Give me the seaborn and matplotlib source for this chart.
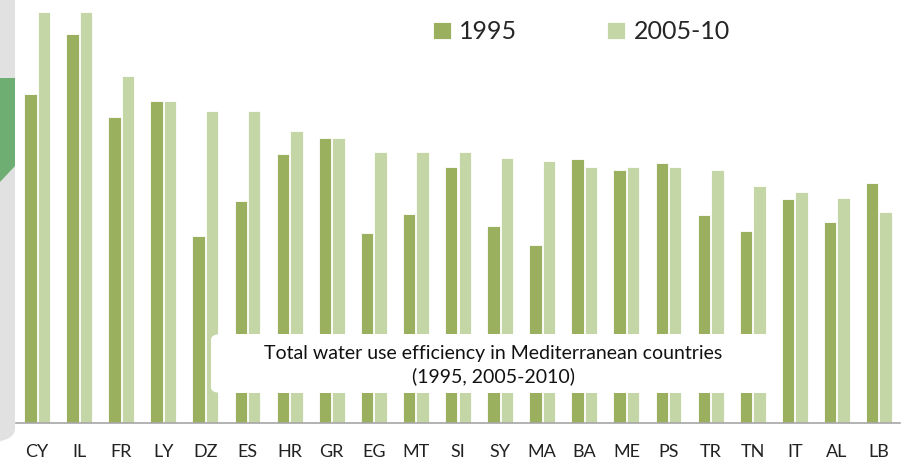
import numpy as np
import pandas as pd
import matplotlib
matplotlib.use("Agg")
import matplotlib.pyplot as plt
from matplotlib.patches import FancyBboxPatch, Polygon
import seaborn as sns

# data (efficiency, arbitrary % scale)
countries = ["CY", "IL", "FR", "LY", "DZ", "ES", "HR", "GR", "EG", "MT", "SI",
             "SY", "MA", "BA", "ME", "PS", "TR", "TN", "IT", "AL", "LB"]
val_1995 = [80.0, 94.6, 74.6, 78.3, 45.6, 54.1, 65.6, 69.3, 46.3, 51.0, 62.4,
            48.0, 43.4, 64.4, 61.5, 63.4, 50.7, 46.8, 54.6, 49.0, 58.5]
val_2005 = [100.0, 100.0, 84.4, 78.3, 75.9, 75.9, 71.0, 69.5, 66.1, 66.1, 66.1,
            64.6, 63.7, 62.4, 62.4, 62.4, 61.7, 57.6, 56.3, 54.9, 51.5]
periods = ["1995", "2005-10"]
colors = ["#9BB05E", "#C4D5A6"]

df = pd.DataFrame({
    "country": countries * 2,
    "period": [periods[0]] * len(countries) + [periods[1]] * len(countries),
    "value": val_1995 + val_2005,
})

sns.set_style("white")
plt.rcParams["font.family"] = ["Lato", "DejaVu Sans"]

W, H = 906, 462
fig = plt.figure(figsize=(W / 100, H / 100), dpi=100)

# decorative slide background on the left edge
fig.add_artist(FancyBboxPatch((-20 / W, 20 / H), 35 / W, 460 / H,
                              boxstyle="round,pad=0,rounding_size=0.03",
                              transform=fig.transFigure, facecolor="#E1E1E1",
                              edgecolor="none", zorder=0))
fig.add_artist(Polygon([(0, 1 - 78 / H), (15 / W, 1 - 78 / H), (15 / W, 1 - 166 / H),
                        (0, 1 - 182 / H)], closed=True, transform=fig.transFigure,
                       facecolor="#6FAE72", edgecolor="none", zorder=0))

ax = fig.add_axes([16 / W, 39 / H, 884 / W, 423 / H])
ax.patch.set_alpha(0)
sns.barplot(data=df, x="country", y="value", hue="period", palette=colors,
            saturation=1, width=0.64, gap=0.08, edgecolor="white",
            linewidth=0.6, ax=ax)

ax.set_ylim(0, 103)
ax.set_xlim(-0.5, len(countries) - 0.5)
ax.set_xlabel("")
ax.set_ylabel("")
ax.set_yticks([])
for s in ["left", "top", "right"]:
    ax.spines[s].set_visible(False)
ax.spines["bottom"].set_color("#A6A6A6")
ax.spines["bottom"].set_linewidth(1.2)
ax.set_xticks(np.arange(-0.5, len(countries), 1), minor=True)
ax.tick_params(axis="x", which="minor", length=7, color="#A6A6A6", width=1.2)
ax.tick_params(axis="x", which="major", length=0, pad=15, labelsize=13,
               labelcolor="#222222")

sns.move_legend(ax, "upper left", bbox_to_anchor=(433 / W, 1 - 20 / H),
                bbox_transform=fig.transFigure, ncol=2, frameon=False,
                fontsize=18, title=None, handlelength=0.7, handleheight=0.7,
                handletextpad=0.35, columnspacing=3.6, borderpad=0,
                borderaxespad=0)

# caption box over the bars
fig.add_artist(FancyBboxPatch((211 / W, 1 - 393 / H), 564 / W, 59 / H,
                              boxstyle="round,pad=0,rounding_size=0.012",
                              transform=fig.transFigure, facecolor="white",
                              edgecolor="none", zorder=5))
fig.text(493 / W, 1 - 365 / H,
         "Total water use efficiency in Mediterranean countries\n(1995, 2005-2010)",
         ha="center", va="center", fontsize=14, color="#111111",
         linespacing=1.3, zorder=6)

fig.savefig("out.png", dpi=100)
